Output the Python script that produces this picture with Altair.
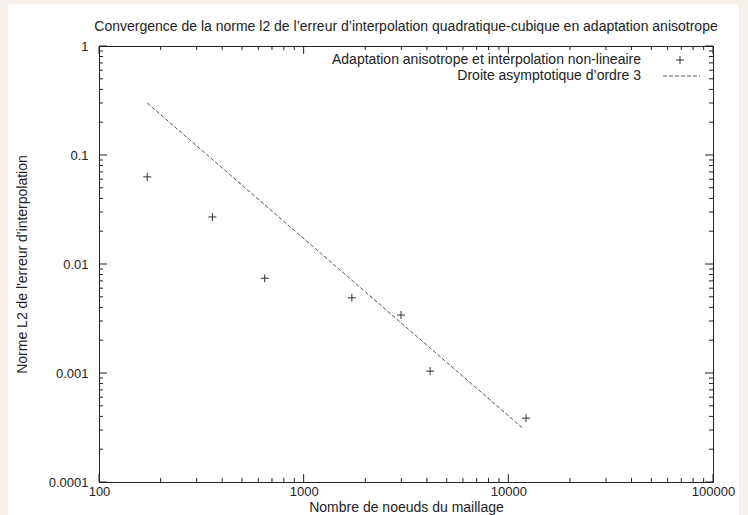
import altair as alt
import pandas as pd

# ---- data ----
nodes = [172, 358, 645, 1720, 2990, 4150, 12200]
errors = [0.063, 0.027, 0.0074, 0.0049, 0.0034, 0.00104, 0.000385]
line_nodes = [172, 11800]
line_errors = [0.30, 0.00031]
x_major = [100, 1000, 10000, 100000]
y_major = [0.0001, 0.001, 0.01, 0.1, 1]
x_minor = [m * d for d in (100, 1000, 10000) for m in range(2, 10)]
y_minor = [round(m * d, 6) for d in (0.0001, 0.001, 0.01, 0.1) for m in range(2, 10)]
legend_labels = ["Adaptation anisotrope et interpolation non-lineaire",
                 "Droite asymptotique d\u2019ordre 3"]
title_text = ("Convergence de la norme l2 de l\u2019erreur d\u2019interpolation "
              "quadratique-cubique en adaptation anisotrope")
x_title = "Nombre de noeuds du maillage"
y_title = "Norme L2 de l'erreur d'interpolation"

# ---- layout / style ----
W, H = 614, 436
PAD = {"left": 99, "top": 46, "right": 35, "bottom": 33}
FONT = "Liberation Sans"
FS = 14
LFS = 13
INK = "#222222"
BEIGE = "#f5f1ea"
MAJ, MIN = 8, 4

xs = alt.Scale(type="log", domain=[100, 100000], nice=False)
ys = alt.Scale(type="log", domain=[0.0001, 1], nice=False)

xa = alt.Axis(values=x_major, format="~g", title=x_title, ticks=False, domain=False, grid=False,
              labelFont=FONT, labelFontSize=LFS, labelColor=INK, labelPadding=3,
              titleFont=FONT, titleFontSize=FS, titleFontWeight="normal", titleColor=INK,
              titleY=25, titleBaseline="middle", labelFlush=False)
ya = alt.Axis(values=y_major, format="~g", title=y_title, ticks=False, domain=False, grid=False,
              labelFont=FONT, labelFontSize=LFS, labelColor=INK, labelPadding=11,
              titleFont=FONT, titleFontSize=FS, titleFontWeight="normal", titleColor=INK,
              titleX=-77, titleY=H / 2, titleAngle=-90, titleAlign="center",
              titleBaseline="middle", labelFlush=False)

pts = pd.DataFrame({"n": nodes, "e": errors})
ln = pd.DataFrame({"n": line_nodes, "e": line_errors})
one = pd.DataFrame({"a": [0]})

plus = "M-1,0L1,0M0,-1L0,1"

points = alt.Chart(pts).mark_point(shape=plus, size=64, filled=False,
                                   stroke="#333333", strokeWidth=1, opacity=1).encode(
    x=alt.X("n:Q", scale=xs, axis=xa),
    y=alt.Y("e:Q", scale=ys, axis=ya),
)

line = alt.Chart(ln).mark_line(color="#555555", strokeWidth=1, strokeDash=[4, 2]).encode(
    x=alt.X("n:Q", scale=xs, axis=xa),
    y=alt.Y("e:Q", scale=ys, axis=ya),
)


def xticks(vals, length):
    d = pd.DataFrame({"n": vals})
    bottom = alt.Chart(d).mark_rule(color=INK, strokeWidth=1).encode(
        x=alt.X("n:Q", scale=xs, axis=xa), y=alt.value(H), y2=alt.value(H - length))
    top = alt.Chart(d).mark_rule(color=INK, strokeWidth=1).encode(
        x=alt.X("n:Q", scale=xs, axis=xa), y=alt.value(0), y2=alt.value(length))
    return [bottom, top]


def yticks(vals, length):
    d = pd.DataFrame({"e": vals})
    left = alt.Chart(d).mark_rule(color=INK, strokeWidth=1).encode(
        y=alt.Y("e:Q", scale=ys, axis=ya), x=alt.value(0), x2=alt.value(length))
    right = alt.Chart(d).mark_rule(color=INK, strokeWidth=1).encode(
        y=alt.Y("e:Q", scale=ys, axis=ya), x=alt.value(W), x2=alt.value(W - length))
    return [left, right]


ticks = (xticks(x_major, MAJ) + xticks(x_minor, MIN)
         + yticks(y_major, MAJ) + yticks(y_minor, MIN))

# chart title as a text mark above the frame
title = alt.Chart(one).mark_text(text=title_text, align="center", baseline="middle",
                                 font=FONT, fontSize=FS, color=INK).encode(
    x=alt.value(W / 2), y=alt.value(-19))

# legend (drawn inside the frame, top right)
leg_txt = [
    alt.Chart(one).mark_text(text=legend_labels[i], align="right", baseline="middle",
                             font=FONT, fontSize=FS, color=INK).encode(
        x=alt.value(542), y=alt.value(14 + 16 * i))
    for i in range(2)
]
leg_plus = alt.Chart(one).mark_point(shape=plus, size=64, filled=False, stroke="#333333",
                                     strokeWidth=1, opacity=1).encode(
    x=alt.value(581), y=alt.value(14))
leg_dash = alt.Chart(one).mark_rule(color="#555555", strokeWidth=1, strokeDash=[4, 2]).encode(
    x=alt.value(564), x2=alt.value(601), y=alt.value(30))

# beige outer strips
strips = [
    alt.Chart(one).mark_rect(color=BEIGE).encode(
        x=alt.value(-PAD["left"]), x2=alt.value(-PAD["left"] + 8),
        y=alt.value(-PAD["top"]), y2=alt.value(H + PAD["bottom"])),
    alt.Chart(one).mark_rect(color=BEIGE).encode(
        x=alt.value(739 - PAD["left"]), x2=alt.value(W + PAD["right"]),
        y=alt.value(-PAD["top"]), y2=alt.value(H + PAD["bottom"])),
    alt.Chart(one).mark_rect(color=BEIGE).encode(
        x=alt.value(-PAD["left"]), x2=alt.value(W + PAD["right"]),
        y=alt.value(-PAD["top"]), y2=alt.value(-PAD["top"] + 4)),
]

chart = alt.layer(points, line, *strips, *ticks, title, *leg_txt, leg_plus, leg_dash).properties(
    width=W, height=H,
    padding=PAD,
    autosize=alt.AutoSizeParams(type="none"),
    background="white",
).configure_view(stroke=INK, strokeWidth=1)

chart.save("out.html", embed_options={"renderer": "svg", "actions": False})
